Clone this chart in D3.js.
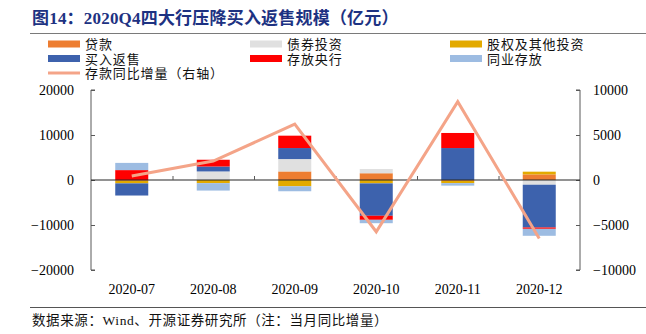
<!DOCTYPE html>
<html><head><meta charset="utf-8">
<script src="https://cdn.jsdelivr.net/npm/d3@7"></script>
<style>
html,body{margin:0;padding:0;background:#fff;}
text{font-family:"Liberation Serif","Noto Sans CJK SC",serif;}
</style></head>
<body><svg id="c" width="646" height="334"></svg>
<script>
const categories = ['2020-07','2020-08','2020-09','2020-10','2020-11','2020-12'];
const loans       = [-200,     0, 1900,  1500, -200,  1250];
const bonds       = [   0,  1900, 2750,   950,    0, -1050];
const equity      = [-550,  -700, -1400, -750, -500,   600];
const reverseRepo = [-2700, 1100, 2450, -7200, 7100, -9500];
const centralBank = [2200,  1500, 2750,  -900, 3350,  -300];
const interbank   = [1600, -1650, -1100, -750, -550, -1550];
const depositYoY  = [450, 2100, 6200, -5750, 8700, -6500];
const leftTicks = [-20000,-10000,0,10000,20000];
const rightTicks = [-10000,-5000,0,5000,10000];

const seriesNames = ['贷款','债券投资','股权及其他投资','买入返售','存放央行','同业存放'];
const seriesKeys = ['loans','bonds','equity','reverseRepo','centralBank','interbank'];
const seriesData = [loans,bonds,equity,reverseRepo,centralBank,interbank];
const colors = ['#ED7D31','#E0E0E0','#E3AA00','#3D62AD','#FF0000','#9DBCE2'];
const lineName = '存款同比增量（右轴）';
const lineColor = '#F4A488';

const svg = d3.select('#c');
const L = 91, R = 580, T = 90, B = 270;

// title
svg.append('text').attr('x',32).attr('y',24).attr('font-size',17).attr('font-weight','bold')
  .attr('letter-spacing',0.2).attr('fill','#1d3282').text('图14：2020Q4四大行压降买入返售规模（亿元）');
svg.append('line').attr('x1',30).attr('x2',646).attr('y1',33.5).attr('y2',33.5)
  .attr('stroke','#7a7a7a').attr('stroke-width',1.2);

// legend
const legCols = [48,250,450];
seriesNames.forEach((n,i)=>{
  const col = i%3, row = Math.floor(i/3);
  const y = 44 + row*14.5;
  svg.append('rect').attr('x',legCols[col]).attr('y',y-3.5).attr('width',32).attr('height',7).attr('fill',colors[i]);
  svg.append('text').attr('x',legCols[col]+37).attr('y',y+5).attr('font-size',13)
    .attr('letter-spacing',0.9).attr('fill','#111').text(n);
});
svg.append('line').attr('x1',48).attr('x2',80).attr('y1',73).attr('y2',73).attr('stroke',lineColor).attr('stroke-width',3);
svg.append('text').attr('x',85).attr('y',78).attr('font-size',13).attr('letter-spacing',0.9)
  .attr('fill','#111').text(lineName);

// scales
const x = d3.scaleBand().domain(categories).range([L,R]).paddingInner(0.595).paddingOuter(0.2975);
const y = d3.scaleLinear().domain([-20000,20000]).range([B,T]);
const y2 = d3.scaleLinear().domain([-10000,10000]).range([B,T]);

// stacked bars
const rows = categories.map((c,i)=>{
  const o = {cat:c};
  seriesKeys.forEach((k,j)=>o[k]=seriesData[j][i]);
  return o;
});
const stack = d3.stack().keys(seriesKeys).offset(d3.stackOffsetDiverging)(rows);
svg.append('g').selectAll('g').data(stack).join('g').attr('fill',(d,i)=>colors[i])
  .selectAll('rect').data(d=>d).join('rect')
  .attr('x',d=>x(d.data.cat)).attr('width',x.bandwidth())
  .attr('y',d=>y(Math.max(d[0],d[1]))).attr('height',d=>Math.abs(y(d[0])-y(d[1])));

// left axis
const gl = svg.append('g').attr('transform',`translate(${L},0)`)
  .call(d3.axisRight(y).tickValues(leftTicks).tickSize(4).tickFormat(d3.format('d')));
gl.select('.domain').attr('stroke','#595959').attr('d',`M4,${T}H0V${B}H4`);
gl.selectAll('.tick line').attr('stroke','#595959');
gl.selectAll('.tick text').attr('x',-17).attr('text-anchor','end').attr('font-size',14)
  .attr('fill','#000').attr('font-family','"Liberation Serif",serif');

// right axis
const gr = svg.append('g').attr('transform',`translate(${R},0)`)
  .call(d3.axisLeft(y2).tickValues(rightTicks).tickSize(4).tickFormat(d3.format('d')));
gr.select('.domain').attr('stroke','#595959').attr('d',`M-4,${T}H0V${B}H-4`);
gr.selectAll('.tick line').attr('stroke','#595959');
gr.selectAll('.tick text').attr('x',13).attr('text-anchor','start').attr('font-size',14)
  .attr('fill','#000').attr('font-family','"Liberation Serif",serif');

// zero line with category ticks
const gz = svg.append('g').attr('transform',`translate(0,${y(0)})`)
  .call(d3.axisTop(d3.scaleLinear().domain([0,categories.length]).range([L,R]))
    .tickValues(d3.range(1,categories.length)).tickSize(4).tickFormat(''));
gz.select('.domain').attr('stroke','#262626').attr('stroke-width',1.2).attr('d',`M${L},0H${R}`);
gz.selectAll('.tick line').attr('stroke','#595959');

// category labels
const gx = svg.append('g').attr('transform',`translate(0,${B})`)
  .call(d3.axisBottom(x).tickSize(0).tickPadding(14));
gx.select('.domain').remove();
gx.selectAll('.tick text').attr('font-size',14).attr('fill','#000').attr('font-family','"Liberation Serif",serif');

// line
const line = d3.line().x((d,i)=>x(categories[i])+x.bandwidth()/2).y(d=>y2(d));
svg.append('path').datum(depositYoY).attr('d',line).attr('fill','none')
  .attr('stroke',lineColor).attr('stroke-width',3);

// footnote
svg.append('line').attr('x1',30).attr('x2',646).attr('y1',307.5).attr('y2',307.5)
  .attr('stroke','#555').attr('stroke-width',1);
svg.append('text').attr('x',32).attr('y',325).attr('font-size',13.5).attr('letter-spacing',0.6).attr('fill','#111')
  .text('数据来源：Wind、开源证券研究所（注：当月同比增量）');
</script></body></html>
